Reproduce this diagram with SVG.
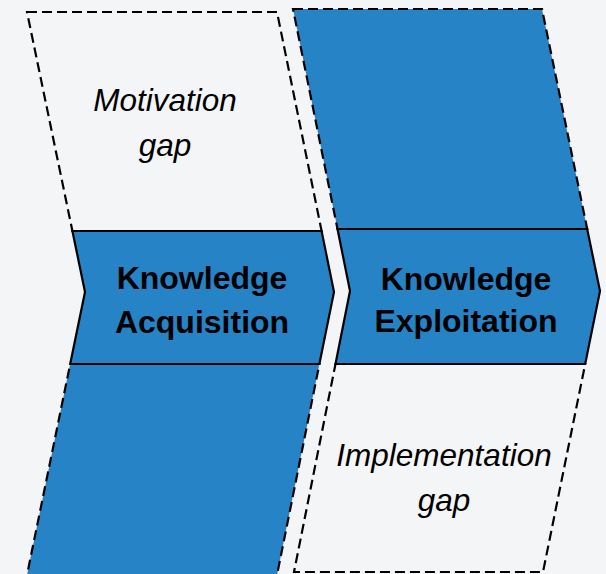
<svg xmlns="http://www.w3.org/2000/svg" width="606" height="574" viewBox="0 0 606 574">
  <style>
    .gap-filled { fill: #2683C6; stroke: #000; stroke-width: 2.2; stroke-dasharray: 10 5; }
    .gap-empty { fill: #F4F5F7; stroke: #000; stroke-width: 2.2; stroke-dasharray: 10 5; }
    .stage { fill: #2683C6; stroke: #000; stroke-width: 2.2; stroke-linejoin: miter; }
    .label-i { font-family: "Liberation Sans", Arial, sans-serif; font-style: italic; font-size: 31.5px; fill: #000; text-anchor: middle; }
    .label-b { font-family: "Liberation Sans", Arial, sans-serif; font-weight: bold; font-size: 32px; fill: #000; text-anchor: middle; }
  </style>
  <rect width="606" height="574" fill="#F4F5F7"/>

  <!-- Left column -->
  <g id="motivation-gap">
    <polygon class="gap-empty" points="27,12 277,12 321.6,231 72.4,231"/>
    <text class="label-i" x="165" y="111">Motivation</text>
    <text class="label-i" x="165" y="156">gap</text>
  </g>
  <g id="acquisition-lower">
    <polygon class="gap-filled" points="70.2,364 319.4,364 277,575 27,575"/>
  </g>
  <g id="knowledge-acquisition">
    <polygon class="stage" points="72.4,231 321.6,231 334,292 319.4,364 70.2,364 85,292"/>
    <text class="label-b" x="202" y="289">Knowledge</text>
    <text class="label-b" x="202" y="333">Acquisition</text>
  </g>

  <!-- Right column -->
  <g id="exploitation-upper">
    <polygon class="gap-filled" points="293,9 542,9 587.2,229 337.5,229"/>
  </g>
  <g id="implementation-gap">
    <polygon class="gap-empty" points="335.5,364 585.2,364 543,572 294,572"/>
    <text class="label-i" x="444" y="466">Implementation</text>
    <text class="label-i" x="444" y="511">gap</text>
  </g>
  <g id="knowledge-exploitation">
    <polygon class="stage" points="337.5,229 587.2,229 600,291 585.2,364 335.5,364 350,291"/>
    <text class="label-b" x="466" y="290">Knowledge</text>
    <text class="label-b" x="466" y="332">Exploitation</text>
  </g>
</svg>
